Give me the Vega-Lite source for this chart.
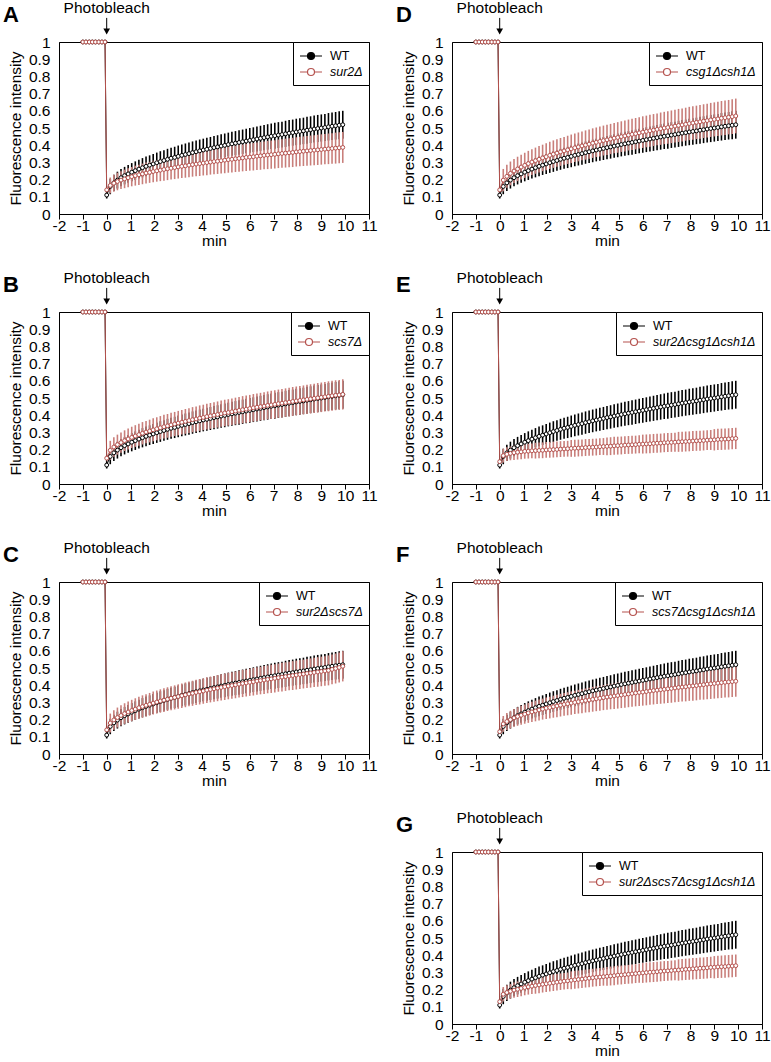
{
"$schema":"https://vega.github.io/schema/vega-lite/v6.json",
"padding":{"left":2,"top":0,"right":2,"bottom":2},
"background":"white",
"spacing":17,
"resolve":{"scale":{"x":"independent","y":"independent","color":"independent"},"legend":{"color":"independent"}},
"datasets":{"frap":[
{"t":-1,"w":1,"we":0,"a":1,"ae":0,"b":1,"be":0,"c":1,"ce":0,"d":1,"de":0,"e":1,"ee":0,"f":1,"fe":0,"g":1,"ge":0},
{"t":-0.87,"w":1,"we":0,"a":1,"ae":0,"b":1,"be":0,"c":1,"ce":0,"d":1,"de":0,"e":1,"ee":0,"f":1,"fe":0,"g":1,"ge":0},
{"t":-0.73,"w":1,"we":0,"a":1,"ae":0,"b":1,"be":0,"c":1,"ce":0,"d":1,"de":0,"e":1,"ee":0,"f":1,"fe":0,"g":1,"ge":0},
{"t":-0.6,"w":1,"we":0,"a":1,"ae":0,"b":1,"be":0,"c":1,"ce":0,"d":1,"de":0,"e":1,"ee":0,"f":1,"fe":0,"g":1,"ge":0},
{"t":-0.47,"w":1,"we":0,"a":1,"ae":0,"b":1,"be":0,"c":1,"ce":0,"d":1,"de":0,"e":1,"ee":0,"f":1,"fe":0,"g":1,"ge":0},
{"t":-0.33,"w":1,"we":0,"a":1,"ae":0,"b":1,"be":0,"c":1,"ce":0,"d":1,"de":0,"e":1,"ee":0,"f":1,"fe":0,"g":1,"ge":0},
{"t":-0.2,"w":1,"we":0,"a":1,"ae":0,"b":1,"be":0,"c":1,"ce":0,"d":1,"de":0,"e":1,"ee":0,"f":1,"fe":0,"g":1,"ge":0},
{"t":-0.07,"w":1,"we":0,"a":1,"ae":0,"b":1,"be":0,"c":1,"ce":0,"d":1,"de":0,"e":1,"ee":0,"f":1,"fe":0,"g":1,"ge":0},
{"t":0,"w":0.11,"we":0.02,"a":0.14,"ae":0.02,"b":0.15,"be":0.02,"c":0.14,"ce":0.02,"d":0.14,"de":0.02,"e":0.13,"ee":0.015,"f":0.13,"fe":0.02,"g":0.13,"ge":0.015},
{"t":0.15,"w":0.160,"we":0.045,"a":0.166,"ae":0.046,"b":0.196,"be":0.055,"c":0.180,"ce":0.055,"d":0.197,"de":0.065,"e":0.165,"ee":0.040,"f":0.175,"fe":0.046,"g":0.173,"ge":0.042},
{"t":0.3,"w":0.181,"we":0.047,"a":0.179,"ae":0.049,"b":0.215,"be":0.057,"c":0.198,"ce":0.057,"d":0.219,"de":0.067,"e":0.173,"ee":0.040,"f":0.189,"fe":0.049,"g":0.183,"ge":0.042},
{"t":0.45,"w":0.197,"we":0.049,"a":0.189,"ae":0.051,"b":0.229,"be":0.058,"c":0.212,"ce":0.058,"d":0.236,"de":0.069,"e":0.178,"ee":0.040,"f":0.200,"fe":0.051,"g":0.190,"ge":0.042},
{"t":0.6,"w":0.211,"we":0.050,"a":0.197,"ae":0.052,"b":0.241,"be":0.059,"c":0.224,"ce":0.059,"d":0.250,"de":0.070,"e":0.182,"ee":0.043,"f":0.210,"fe":0.052,"g":0.197,"ge":0.045},
{"t":0.75,"w":0.223,"we":0.051,"a":0.204,"ae":0.054,"b":0.252,"be":0.060,"c":0.235,"ce":0.060,"d":0.262,"de":0.071,"e":0.185,"ee":0.043,"f":0.218,"fe":0.054,"g":0.202,"ge":0.045},
{"t":0.9,"w":0.233,"we":0.052,"a":0.211,"ae":0.055,"b":0.262,"be":0.061,"c":0.244,"ce":0.061,"d":0.273,"de":0.072,"e":0.187,"ee":0.043,"f":0.225,"fe":0.055,"g":0.207,"ge":0.045},
{"t":1.05,"w":0.243,"we":0.053,"a":0.217,"ae":0.056,"b":0.271,"be":0.062,"c":0.253,"ce":0.062,"d":0.283,"de":0.073,"e":0.190,"ee":0.043,"f":0.232,"fe":0.056,"g":0.212,"ge":0.045},
{"t":1.2,"w":0.252,"we":0.054,"a":0.223,"ae":0.058,"b":0.279,"be":0.063,"c":0.261,"ce":0.063,"d":0.293,"de":0.074,"e":0.191,"ee":0.043,"f":0.239,"fe":0.058,"g":0.216,"ge":0.045},
{"t":1.35,"w":0.261,"we":0.055,"a":0.228,"ae":0.059,"b":0.287,"be":0.064,"c":0.269,"ce":0.064,"d":0.302,"de":0.075,"e":0.193,"ee":0.043,"f":0.245,"fe":0.059,"g":0.220,"ge":0.045},
{"t":1.5,"w":0.269,"we":0.056,"a":0.233,"ae":0.060,"b":0.295,"be":0.065,"c":0.276,"ce":0.065,"d":0.310,"de":0.076,"e":0.194,"ee":0.046,"f":0.250,"fe":0.060,"g":0.224,"ge":0.048},
{"t":1.65,"w":0.277,"we":0.057,"a":0.238,"ae":0.061,"b":0.302,"be":0.065,"c":0.283,"ce":0.065,"d":0.318,"de":0.077,"e":0.195,"ee":0.046,"f":0.256,"fe":0.061,"g":0.227,"ge":0.048},
{"t":1.8,"w":0.284,"we":0.057,"a":0.242,"ae":0.061,"b":0.308,"be":0.066,"c":0.289,"ce":0.066,"d":0.326,"de":0.077,"e":0.196,"ee":0.046,"f":0.261,"fe":0.061,"g":0.231,"ge":0.048},
{"t":1.95,"w":0.291,"we":0.058,"a":0.247,"ae":0.062,"b":0.315,"be":0.067,"c":0.296,"ce":0.067,"d":0.333,"de":0.078,"e":0.198,"ee":0.046,"f":0.266,"fe":0.062,"g":0.234,"ge":0.048},
{"t":2.1,"w":0.298,"we":0.059,"a":0.251,"ae":0.063,"b":0.321,"be":0.067,"c":0.302,"ce":0.067,"d":0.341,"de":0.079,"e":0.199,"ee":0.046,"f":0.270,"fe":0.063,"g":0.237,"ge":0.048},
{"t":2.25,"w":0.305,"we":0.060,"a":0.255,"ae":0.064,"b":0.327,"be":0.068,"c":0.308,"ce":0.068,"d":0.348,"de":0.080,"e":0.200,"ee":0.046,"f":0.275,"fe":0.064,"g":0.240,"ge":0.048},
{"t":2.4,"w":0.311,"we":0.060,"a":0.259,"ae":0.065,"b":0.333,"be":0.069,"c":0.313,"ce":0.069,"d":0.354,"de":0.080,"e":0.201,"ee":0.046,"f":0.279,"fe":0.065,"g":0.243,"ge":0.048},
{"t":2.55,"w":0.318,"we":0.061,"a":0.263,"ae":0.066,"b":0.338,"be":0.069,"c":0.319,"ce":0.069,"d":0.361,"de":0.081,"e":0.203,"ee":0.046,"f":0.284,"fe":0.066,"g":0.246,"ge":0.048},
{"t":2.7,"w":0.324,"we":0.061,"a":0.266,"ae":0.066,"b":0.344,"be":0.070,"c":0.324,"ce":0.070,"d":0.367,"de":0.081,"e":0.204,"ee":0.046,"f":0.288,"fe":0.066,"g":0.249,"ge":0.048},
{"t":2.85,"w":0.329,"we":0.062,"a":0.270,"ae":0.067,"b":0.349,"be":0.070,"c":0.329,"ce":0.070,"d":0.373,"de":0.082,"e":0.205,"ee":0.046,"f":0.292,"fe":0.067,"g":0.251,"ge":0.048},
{"t":3.0,"w":0.335,"we":0.063,"a":0.274,"ae":0.068,"b":0.354,"be":0.071,"c":0.334,"ce":0.071,"d":0.379,"de":0.083,"e":0.207,"ee":0.049,"f":0.296,"fe":0.068,"g":0.254,"ge":0.052},
{"t":3.15,"w":0.341,"we":0.063,"a":0.277,"ae":0.068,"b":0.359,"be":0.071,"c":0.339,"ce":0.071,"d":0.385,"de":0.083,"e":0.208,"ee":0.049,"f":0.300,"fe":0.068,"g":0.257,"ge":0.052},
{"t":3.3,"w":0.346,"we":0.064,"a":0.280,"ae":0.069,"b":0.364,"be":0.072,"c":0.344,"ce":0.072,"d":0.390,"de":0.084,"e":0.209,"ee":0.049,"f":0.304,"fe":0.069,"g":0.259,"ge":0.052},
{"t":3.45,"w":0.351,"we":0.064,"a":0.284,"ae":0.070,"b":0.369,"be":0.072,"c":0.349,"ce":0.072,"d":0.396,"de":0.084,"e":0.210,"ee":0.049,"f":0.307,"fe":0.070,"g":0.261,"ge":0.052},
{"t":3.6,"w":0.357,"we":0.065,"a":0.287,"ae":0.070,"b":0.374,"be":0.073,"c":0.353,"ce":0.073,"d":0.401,"de":0.085,"e":0.212,"ee":0.049,"f":0.311,"fe":0.070,"g":0.264,"ge":0.052},
{"t":3.75,"w":0.362,"we":0.065,"a":0.290,"ae":0.071,"b":0.378,"be":0.073,"c":0.358,"ce":0.073,"d":0.406,"de":0.085,"e":0.213,"ee":0.049,"f":0.314,"fe":0.071,"g":0.266,"ge":0.052},
{"t":3.9,"w":0.367,"we":0.066,"a":0.293,"ae":0.072,"b":0.383,"be":0.074,"c":0.362,"ce":0.074,"d":0.412,"de":0.086,"e":0.214,"ee":0.049,"f":0.318,"fe":0.072,"g":0.269,"ge":0.052},
{"t":4.05,"w":0.372,"we":0.066,"a":0.296,"ae":0.072,"b":0.387,"be":0.074,"c":0.366,"ce":0.074,"d":0.417,"de":0.086,"e":0.215,"ee":0.049,"f":0.321,"fe":0.072,"g":0.271,"ge":0.052},
{"t":4.2,"w":0.376,"we":0.067,"a":0.299,"ae":0.073,"b":0.392,"be":0.075,"c":0.371,"ce":0.075,"d":0.422,"de":0.087,"e":0.217,"ee":0.049,"f":0.324,"fe":0.073,"g":0.273,"ge":0.052},
{"t":4.35,"w":0.381,"we":0.067,"a":0.302,"ae":0.073,"b":0.396,"be":0.075,"c":0.375,"ce":0.075,"d":0.427,"de":0.087,"e":0.218,"ee":0.049,"f":0.328,"fe":0.073,"g":0.275,"ge":0.052},
{"t":4.5,"w":0.386,"we":0.068,"a":0.305,"ae":0.074,"b":0.400,"be":0.075,"c":0.379,"ce":0.075,"d":0.431,"de":0.088,"e":0.219,"ee":0.052,"f":0.331,"fe":0.074,"g":0.277,"ge":0.055},
{"t":4.65,"w":0.390,"we":0.068,"a":0.307,"ae":0.074,"b":0.404,"be":0.076,"c":0.383,"ce":0.076,"d":0.436,"de":0.088,"e":0.220,"ee":0.052,"f":0.334,"fe":0.074,"g":0.279,"ge":0.055},
{"t":4.8,"w":0.395,"we":0.068,"a":0.310,"ae":0.075,"b":0.409,"be":0.076,"c":0.387,"ce":0.076,"d":0.441,"de":0.088,"e":0.222,"ee":0.052,"f":0.337,"fe":0.075,"g":0.281,"ge":0.055},
{"t":4.95,"w":0.399,"we":0.069,"a":0.313,"ae":0.076,"b":0.413,"be":0.077,"c":0.391,"ce":0.077,"d":0.445,"de":0.089,"e":0.223,"ee":0.052,"f":0.340,"fe":0.076,"g":0.284,"ge":0.055},
{"t":5.1,"w":0.404,"we":0.069,"a":0.316,"ae":0.076,"b":0.416,"be":0.077,"c":0.395,"ce":0.077,"d":0.450,"de":0.089,"e":0.224,"ee":0.052,"f":0.343,"fe":0.076,"g":0.285,"ge":0.055},
{"t":5.25,"w":0.408,"we":0.070,"a":0.318,"ae":0.077,"b":0.420,"be":0.077,"c":0.398,"ce":0.077,"d":0.454,"de":0.090,"e":0.226,"ee":0.052,"f":0.346,"fe":0.077,"g":0.287,"ge":0.055},
{"t":5.4,"w":0.412,"we":0.070,"a":0.321,"ae":0.077,"b":0.424,"be":0.078,"c":0.402,"ce":0.078,"d":0.459,"de":0.090,"e":0.227,"ee":0.052,"f":0.349,"fe":0.077,"g":0.289,"ge":0.055},
{"t":5.55,"w":0.416,"we":0.071,"a":0.323,"ae":0.078,"b":0.428,"be":0.078,"c":0.406,"ce":0.078,"d":0.463,"de":0.091,"e":0.228,"ee":0.052,"f":0.352,"fe":0.078,"g":0.291,"ge":0.055},
{"t":5.7,"w":0.420,"we":0.071,"a":0.326,"ae":0.078,"b":0.432,"be":0.079,"c":0.410,"ce":0.079,"d":0.467,"de":0.091,"e":0.229,"ee":0.052,"f":0.355,"fe":0.078,"g":0.293,"ge":0.055},
{"t":5.85,"w":0.424,"we":0.071,"a":0.329,"ae":0.079,"b":0.435,"be":0.079,"c":0.413,"ce":0.079,"d":0.472,"de":0.091,"e":0.231,"ee":0.052,"f":0.358,"fe":0.079,"g":0.295,"ge":0.055},
{"t":6.0,"w":0.428,"we":0.072,"a":0.331,"ae":0.079,"b":0.439,"be":0.079,"c":0.417,"ce":0.079,"d":0.476,"de":0.092,"e":0.232,"ee":0.055,"f":0.360,"fe":0.079,"g":0.297,"ge":0.058},
{"t":6.15,"w":0.432,"we":0.072,"a":0.333,"ae":0.080,"b":0.443,"be":0.080,"c":0.420,"ce":0.080,"d":0.480,"de":0.092,"e":0.233,"ee":0.055,"f":0.363,"fe":0.080,"g":0.299,"ge":0.058},
{"t":6.3,"w":0.436,"we":0.073,"a":0.336,"ae":0.080,"b":0.446,"be":0.080,"c":0.424,"ce":0.080,"d":0.484,"de":0.093,"e":0.234,"ee":0.055,"f":0.366,"fe":0.080,"g":0.301,"ge":0.058},
{"t":6.45,"w":0.440,"we":0.073,"a":0.338,"ae":0.081,"b":0.450,"be":0.080,"c":0.427,"ce":0.080,"d":0.488,"de":0.093,"e":0.236,"ee":0.055,"f":0.369,"fe":0.081,"g":0.302,"ge":0.058},
{"t":6.6,"w":0.444,"we":0.073,"a":0.341,"ae":0.081,"b":0.453,"be":0.081,"c":0.430,"ce":0.081,"d":0.492,"de":0.093,"e":0.237,"ee":0.055,"f":0.371,"fe":0.081,"g":0.304,"ge":0.058},
{"t":6.75,"w":0.448,"we":0.074,"a":0.343,"ae":0.082,"b":0.457,"be":0.081,"c":0.434,"ce":0.081,"d":0.496,"de":0.094,"e":0.238,"ee":0.055,"f":0.374,"fe":0.082,"g":0.306,"ge":0.058},
{"t":6.9,"w":0.452,"we":0.074,"a":0.345,"ae":0.082,"b":0.460,"be":0.082,"c":0.437,"ce":0.082,"d":0.500,"de":0.094,"e":0.240,"ee":0.055,"f":0.376,"fe":0.082,"g":0.308,"ge":0.058},
{"t":7.05,"w":0.455,"we":0.075,"a":0.347,"ae":0.082,"b":0.463,"be":0.082,"c":0.440,"ce":0.082,"d":0.503,"de":0.095,"e":0.241,"ee":0.055,"f":0.379,"fe":0.082,"g":0.309,"ge":0.058},
{"t":7.2,"w":0.459,"we":0.075,"a":0.350,"ae":0.083,"b":0.467,"be":0.082,"c":0.444,"ce":0.082,"d":0.507,"de":0.095,"e":0.242,"ee":0.055,"f":0.381,"fe":0.083,"g":0.311,"ge":0.058},
{"t":7.35,"w":0.462,"we":0.075,"a":0.352,"ae":0.083,"b":0.470,"be":0.083,"c":0.447,"ce":0.083,"d":0.511,"de":0.095,"e":0.243,"ee":0.055,"f":0.384,"fe":0.083,"g":0.313,"ge":0.058},
{"t":7.5,"w":0.466,"we":0.076,"a":0.354,"ae":0.084,"b":0.473,"be":0.083,"c":0.450,"ce":0.083,"d":0.515,"de":0.096,"e":0.245,"ee":0.058,"f":0.387,"fe":0.084,"g":0.314,"ge":0.062},
{"t":7.65,"w":0.470,"we":0.076,"a":0.356,"ae":0.084,"b":0.476,"be":0.083,"c":0.453,"ce":0.083,"d":0.518,"de":0.096,"e":0.246,"ee":0.058,"f":0.389,"fe":0.084,"g":0.316,"ge":0.062},
{"t":7.8,"w":0.473,"we":0.076,"a":0.358,"ae":0.085,"b":0.480,"be":0.084,"c":0.456,"ce":0.084,"d":0.522,"de":0.096,"e":0.247,"ee":0.058,"f":0.391,"fe":0.085,"g":0.318,"ge":0.062},
{"t":7.95,"w":0.477,"we":0.077,"a":0.361,"ae":0.085,"b":0.483,"be":0.084,"c":0.459,"ce":0.084,"d":0.526,"de":0.097,"e":0.248,"ee":0.058,"f":0.394,"fe":0.085,"g":0.319,"ge":0.062},
{"t":8.1,"w":0.480,"we":0.077,"a":0.363,"ae":0.086,"b":0.486,"be":0.084,"c":0.462,"ce":0.084,"d":0.529,"de":0.097,"e":0.250,"ee":0.058,"f":0.396,"fe":0.086,"g":0.321,"ge":0.062},
{"t":8.25,"w":0.483,"we":0.077,"a":0.365,"ae":0.086,"b":0.489,"be":0.084,"c":0.465,"ce":0.084,"d":0.533,"de":0.097,"e":0.251,"ee":0.058,"f":0.398,"fe":0.086,"g":0.322,"ge":0.062},
{"t":8.4,"w":0.487,"we":0.078,"a":0.367,"ae":0.086,"b":0.492,"be":0.085,"c":0.468,"ce":0.085,"d":0.536,"de":0.098,"e":0.252,"ee":0.058,"f":0.401,"fe":0.086,"g":0.324,"ge":0.062},
{"t":8.55,"w":0.490,"we":0.078,"a":0.369,"ae":0.087,"b":0.495,"be":0.085,"c":0.471,"ce":0.085,"d":0.540,"de":0.098,"e":0.253,"ee":0.058,"f":0.403,"fe":0.087,"g":0.325,"ge":0.062},
{"t":8.7,"w":0.494,"we":0.078,"a":0.371,"ae":0.087,"b":0.498,"be":0.085,"c":0.474,"ce":0.085,"d":0.543,"de":0.098,"e":0.255,"ee":0.058,"f":0.406,"fe":0.087,"g":0.327,"ge":0.062},
{"t":8.85,"w":0.497,"we":0.079,"a":0.373,"ae":0.088,"b":0.501,"be":0.086,"c":0.477,"ce":0.086,"d":0.547,"de":0.099,"e":0.256,"ee":0.058,"f":0.408,"fe":0.088,"g":0.329,"ge":0.062},
{"t":9.0,"w":0.500,"we":0.079,"a":0.375,"ae":0.088,"b":0.504,"be":0.086,"c":0.480,"ce":0.086,"d":0.550,"de":0.099,"e":0.257,"ee":0.062,"f":0.410,"fe":0.088,"g":0.330,"ge":0.065},
{"t":9.15,"w":0.503,"we":0.079,"a":0.377,"ae":0.088,"b":0.507,"be":0.086,"c":0.483,"ce":0.086,"d":0.553,"de":0.099,"e":0.259,"ee":0.062,"f":0.412,"fe":0.088,"g":0.332,"ge":0.065},
{"t":9.3,"w":0.507,"we":0.080,"a":0.379,"ae":0.089,"b":0.510,"be":0.087,"c":0.486,"ce":0.087,"d":0.557,"de":0.100,"e":0.260,"ee":0.062,"f":0.415,"fe":0.089,"g":0.333,"ge":0.065},
{"t":9.45,"w":0.510,"we":0.080,"a":0.381,"ae":0.089,"b":0.513,"be":0.087,"c":0.492,"ce":0.087,"d":0.560,"de":0.100,"e":0.261,"ee":0.062,"f":0.417,"fe":0.089,"g":0.334,"ge":0.065},
{"t":9.6,"w":0.513,"we":0.080,"a":0.383,"ae":0.090,"b":0.516,"be":0.087,"c":0.497,"ce":0.087,"d":0.563,"de":0.100,"e":0.262,"ee":0.062,"f":0.419,"fe":0.090,"g":0.336,"ge":0.065},
{"t":9.75,"w":0.516,"we":0.081,"a":0.385,"ae":0.090,"b":0.518,"be":0.087,"c":0.503,"ce":0.087,"d":0.566,"de":0.101,"e":0.264,"ee":0.062,"f":0.421,"fe":0.090,"g":0.337,"ge":0.065},
{"t":9.9,"w":0.519,"we":0.081,"a":0.387,"ae":0.090,"b":0.521,"be":0.088,"c":0.510,"ce":0.088,"d":0.570,"de":0.101,"e":0.265,"ee":0.062,"f":0.423,"fe":0.090,"g":0.339,"ge":0.065}
]},
"data":{"name":"frap"},
"config":{
"font":"Liberation Sans",
"view":{"stroke":"black","strokeWidth":1},
"axis":{"grid":false,"domainColor":"black","tickColor":"black","labelColor":"black","titleColor":"black","labelFontSize":15.5,"titleFontSize":15.5,"titleFontWeight":"normal","labelFont":"Liberation Sans","titleFont":"Liberation Sans","labelFlush":false,"labelOverlap":false},
"axisX":{"tickCount":13,"tickSize":5,"labelPadding":-1,"titlePadding":0,"labelExpr":"datum.value < 0 ? '-' + format(-datum.value, 'd') : format(datum.value, 'd')"},
"axisY":{"tickCount":10,"ticks":false,"labelPadding":9,"titlePadding":5,"format":"~g"},
"title":{"anchor":"start","frame":"group","fontSize":22,"fontWeight":"bold","dx":-56,"offset":-26,"font":"Liberation Sans","color":"black"},
"legend":{"title":null,"orient":"top-right","offset":0,"padding":6,"strokeColor":"black","fillColor":"white","symbolType":"M-1.57,0L-0.5,0M0.5,0L1.57,0M-0.5,0A0.5,0.5,0,1,1,0.5,0A0.5,0.5,0,1,1,-0.5,0Z","symbolSize":196,"symbolOffset":4,"labelOffset":11,"labelFontSize":12.5,"labelFontWeight":"normal","labelFont":"Liberation Sans","labelColor":"black","rowPadding":1,"symbolStrokeWidth":1.2}
},
"hconcat":[
{"vconcat":[
{"title":"A","width":310,"height":172,"layer":[
{"mark":{"type":"errorbar","color":"black","thickness":1.6},"encoding":{"x":{"field":"t","type":"quantitative","scale":{"domain":[-2,11],"nice":false},"title":"min"},"y":{"field":"w","type":"quantitative","scale":{"domain":[0,1],"nice":false},"title":"Fluorescence intensity"},"yError":{"field":"we"}}},
{"mark":{"type":"errorbar","color":"#c97f7b","thickness":1.6},"encoding":{"x":{"field":"t","type":"quantitative","title":"min"},"y":{"field":"a","type":"quantitative","title":"Fluorescence intensity"},"yError":{"field":"ae"}}},
{"mark":{"type":"line","strokeWidth":1,"point":{"filled":false,"fill":"white","size":15,"strokeWidth":1}},"encoding":{"x":{"field":"t","type":"quantitative","title":"min"},"y":{"field":"w","type":"quantitative","title":"Fluorescence intensity"},"color":{"datum":"WT","scale":{"domain":["WT","sur2Δ"],"range":["black","#b5524e"]},"legend":{"encode":{"symbols":{"update":{"fill":{"signal":"datum.value === 'WT' ? 'black' : 'white'"},"stroke":{"signal":"datum.value === 'WT' ? 'black' : '#b5524e'"}}},"labels":{"update":{"fontStyle":{"signal":"datum.value === 'WT' ? 'normal' : 'italic'"}}}}}}}},
{"mark":{"type":"line","strokeWidth":1,"point":{"filled":false,"fill":"white","size":15,"strokeWidth":1}},"encoding":{"x":{"field":"t","type":"quantitative","title":"min"},"y":{"field":"a","type":"quantitative","title":"Fluorescence intensity"},"color":{"datum":"sur2Δ","scale":{"domain":["WT","sur2Δ"],"range":["black","#b5524e"]},"legend":{"encode":{"symbols":{"update":{"fill":{"signal":"datum.value === 'WT' ? 'black' : 'white'"},"stroke":{"signal":"datum.value === 'WT' ? 'black' : '#b5524e'"}}},"labels":{"update":{"fontStyle":{"signal":"datum.value === 'WT' ? 'normal' : 'italic'"}}}}}}}},
{"data":{"values":[{}]},"mark":{"type":"text","text":"Photobleach","fontSize":15.5,"align":"center","baseline":"alphabetic","color":"black"},"encoding":{"x":{"datum":0},"y":{"datum":1.17}}},
{"data":{"values":[{}]},"mark":{"type":"rule","color":"black","strokeWidth":1},"encoding":{"x":{"datum":0},"y":{"datum":1.14},"y2":{"datum":1.065}}},
{"data":{"values":[{}]},"mark":{"type":"point","shape":"triangle-down","filled":true,"color":"black","size":45,"opacity":1},"encoding":{"x":{"datum":0},"y":{"datum":1.061}}}
]},
{"title":"B","width":310,"height":172,"layer":[
{"mark":{"type":"errorbar","color":"black","thickness":1.6},"encoding":{"x":{"field":"t","type":"quantitative","scale":{"domain":[-2,11],"nice":false},"title":"min"},"y":{"field":"w","type":"quantitative","scale":{"domain":[0,1],"nice":false},"title":"Fluorescence intensity"},"yError":{"field":"we"}}},
{"mark":{"type":"errorbar","color":"#c97f7b","thickness":1.6},"encoding":{"x":{"field":"t","type":"quantitative","title":"min"},"y":{"field":"b","type":"quantitative","title":"Fluorescence intensity"},"yError":{"field":"be"}}},
{"mark":{"type":"line","strokeWidth":1,"point":{"filled":false,"fill":"white","size":15,"strokeWidth":1}},"encoding":{"x":{"field":"t","type":"quantitative","title":"min"},"y":{"field":"w","type":"quantitative","title":"Fluorescence intensity"},"color":{"datum":"WT","scale":{"domain":["WT","scs7Δ"],"range":["black","#b5524e"]},"legend":{"encode":{"symbols":{"update":{"fill":{"signal":"datum.value === 'WT' ? 'black' : 'white'"},"stroke":{"signal":"datum.value === 'WT' ? 'black' : '#b5524e'"}}},"labels":{"update":{"fontStyle":{"signal":"datum.value === 'WT' ? 'normal' : 'italic'"}}}}}}}},
{"mark":{"type":"line","strokeWidth":1,"point":{"filled":false,"fill":"white","size":15,"strokeWidth":1}},"encoding":{"x":{"field":"t","type":"quantitative","title":"min"},"y":{"field":"b","type":"quantitative","title":"Fluorescence intensity"},"color":{"datum":"scs7Δ","scale":{"domain":["WT","scs7Δ"],"range":["black","#b5524e"]},"legend":{"encode":{"symbols":{"update":{"fill":{"signal":"datum.value === 'WT' ? 'black' : 'white'"},"stroke":{"signal":"datum.value === 'WT' ? 'black' : '#b5524e'"}}},"labels":{"update":{"fontStyle":{"signal":"datum.value === 'WT' ? 'normal' : 'italic'"}}}}}}}},
{"data":{"values":[{}]},"mark":{"type":"text","text":"Photobleach","fontSize":15.5,"align":"center","baseline":"alphabetic","color":"black"},"encoding":{"x":{"datum":0},"y":{"datum":1.17}}},
{"data":{"values":[{}]},"mark":{"type":"rule","color":"black","strokeWidth":1},"encoding":{"x":{"datum":0},"y":{"datum":1.14},"y2":{"datum":1.065}}},
{"data":{"values":[{}]},"mark":{"type":"point","shape":"triangle-down","filled":true,"color":"black","size":45,"opacity":1},"encoding":{"x":{"datum":0},"y":{"datum":1.061}}}
]},
{"title":"C","width":310,"height":172,"layer":[
{"mark":{"type":"errorbar","color":"black","thickness":1.6},"encoding":{"x":{"field":"t","type":"quantitative","scale":{"domain":[-2,11],"nice":false},"title":"min"},"y":{"field":"w","type":"quantitative","scale":{"domain":[0,1],"nice":false},"title":"Fluorescence intensity"},"yError":{"field":"we"}}},
{"mark":{"type":"errorbar","color":"#c97f7b","thickness":1.6},"encoding":{"x":{"field":"t","type":"quantitative","title":"min"},"y":{"field":"c","type":"quantitative","title":"Fluorescence intensity"},"yError":{"field":"ce"}}},
{"mark":{"type":"line","strokeWidth":1,"point":{"filled":false,"fill":"white","size":15,"strokeWidth":1}},"encoding":{"x":{"field":"t","type":"quantitative","title":"min"},"y":{"field":"w","type":"quantitative","title":"Fluorescence intensity"},"color":{"datum":"WT","scale":{"domain":["WT","sur2Δscs7Δ"],"range":["black","#b5524e"]},"legend":{"encode":{"symbols":{"update":{"fill":{"signal":"datum.value === 'WT' ? 'black' : 'white'"},"stroke":{"signal":"datum.value === 'WT' ? 'black' : '#b5524e'"}}},"labels":{"update":{"fontStyle":{"signal":"datum.value === 'WT' ? 'normal' : 'italic'"}}}}}}}},
{"mark":{"type":"line","strokeWidth":1,"point":{"filled":false,"fill":"white","size":15,"strokeWidth":1}},"encoding":{"x":{"field":"t","type":"quantitative","title":"min"},"y":{"field":"c","type":"quantitative","title":"Fluorescence intensity"},"color":{"datum":"sur2Δscs7Δ","scale":{"domain":["WT","sur2Δscs7Δ"],"range":["black","#b5524e"]},"legend":{"encode":{"symbols":{"update":{"fill":{"signal":"datum.value === 'WT' ? 'black' : 'white'"},"stroke":{"signal":"datum.value === 'WT' ? 'black' : '#b5524e'"}}},"labels":{"update":{"fontStyle":{"signal":"datum.value === 'WT' ? 'normal' : 'italic'"}}}}}}}},
{"data":{"values":[{}]},"mark":{"type":"text","text":"Photobleach","fontSize":15.5,"align":"center","baseline":"alphabetic","color":"black"},"encoding":{"x":{"datum":0},"y":{"datum":1.17}}},
{"data":{"values":[{}]},"mark":{"type":"rule","color":"black","strokeWidth":1},"encoding":{"x":{"datum":0},"y":{"datum":1.14},"y2":{"datum":1.065}}},
{"data":{"values":[{}]},"mark":{"type":"point","shape":"triangle-down","filled":true,"color":"black","size":45,"opacity":1},"encoding":{"x":{"datum":0},"y":{"datum":1.061}}}
]}
],"spacing":98,"bounds":"flush","resolve":{"scale":{"x":"independent","y":"independent","color":"independent"},"legend":{"color":"independent"}}},
{"vconcat":[
{"title":"D","width":310,"height":172,"layer":[
{"mark":{"type":"errorbar","color":"black","thickness":1.6},"encoding":{"x":{"field":"t","type":"quantitative","scale":{"domain":[-2,11],"nice":false},"title":"min"},"y":{"field":"w","type":"quantitative","scale":{"domain":[0,1],"nice":false},"title":"Fluorescence intensity"},"yError":{"field":"we"}}},
{"mark":{"type":"errorbar","color":"#c97f7b","thickness":1.6},"encoding":{"x":{"field":"t","type":"quantitative","title":"min"},"y":{"field":"d","type":"quantitative","title":"Fluorescence intensity"},"yError":{"field":"de"}}},
{"mark":{"type":"line","strokeWidth":1,"point":{"filled":false,"fill":"white","size":15,"strokeWidth":1}},"encoding":{"x":{"field":"t","type":"quantitative","title":"min"},"y":{"field":"w","type":"quantitative","title":"Fluorescence intensity"},"color":{"datum":"WT","scale":{"domain":["WT","csg1Δcsh1Δ"],"range":["black","#b5524e"]},"legend":{"encode":{"symbols":{"update":{"fill":{"signal":"datum.value === 'WT' ? 'black' : 'white'"},"stroke":{"signal":"datum.value === 'WT' ? 'black' : '#b5524e'"}}},"labels":{"update":{"fontStyle":{"signal":"datum.value === 'WT' ? 'normal' : 'italic'"}}}}}}}},
{"mark":{"type":"line","strokeWidth":1,"point":{"filled":false,"fill":"white","size":15,"strokeWidth":1}},"encoding":{"x":{"field":"t","type":"quantitative","title":"min"},"y":{"field":"d","type":"quantitative","title":"Fluorescence intensity"},"color":{"datum":"csg1Δcsh1Δ","scale":{"domain":["WT","csg1Δcsh1Δ"],"range":["black","#b5524e"]},"legend":{"encode":{"symbols":{"update":{"fill":{"signal":"datum.value === 'WT' ? 'black' : 'white'"},"stroke":{"signal":"datum.value === 'WT' ? 'black' : '#b5524e'"}}},"labels":{"update":{"fontStyle":{"signal":"datum.value === 'WT' ? 'normal' : 'italic'"}}}}}}}},
{"data":{"values":[{}]},"mark":{"type":"text","text":"Photobleach","fontSize":15.5,"align":"center","baseline":"alphabetic","color":"black"},"encoding":{"x":{"datum":0},"y":{"datum":1.17}}},
{"data":{"values":[{}]},"mark":{"type":"rule","color":"black","strokeWidth":1},"encoding":{"x":{"datum":0},"y":{"datum":1.14},"y2":{"datum":1.065}}},
{"data":{"values":[{}]},"mark":{"type":"point","shape":"triangle-down","filled":true,"color":"black","size":45,"opacity":1},"encoding":{"x":{"datum":0},"y":{"datum":1.061}}}
]},
{"title":"E","width":310,"height":172,"layer":[
{"mark":{"type":"errorbar","color":"black","thickness":1.6},"encoding":{"x":{"field":"t","type":"quantitative","scale":{"domain":[-2,11],"nice":false},"title":"min"},"y":{"field":"w","type":"quantitative","scale":{"domain":[0,1],"nice":false},"title":"Fluorescence intensity"},"yError":{"field":"we"}}},
{"mark":{"type":"errorbar","color":"#c97f7b","thickness":1.6},"encoding":{"x":{"field":"t","type":"quantitative","title":"min"},"y":{"field":"e","type":"quantitative","title":"Fluorescence intensity"},"yError":{"field":"ee"}}},
{"mark":{"type":"line","strokeWidth":1,"point":{"filled":false,"fill":"white","size":15,"strokeWidth":1}},"encoding":{"x":{"field":"t","type":"quantitative","title":"min"},"y":{"field":"w","type":"quantitative","title":"Fluorescence intensity"},"color":{"datum":"WT","scale":{"domain":["WT","sur2Δcsg1Δcsh1Δ"],"range":["black","#b5524e"]},"legend":{"encode":{"symbols":{"update":{"fill":{"signal":"datum.value === 'WT' ? 'black' : 'white'"},"stroke":{"signal":"datum.value === 'WT' ? 'black' : '#b5524e'"}}},"labels":{"update":{"fontStyle":{"signal":"datum.value === 'WT' ? 'normal' : 'italic'"}}}}}}}},
{"mark":{"type":"line","strokeWidth":1,"point":{"filled":false,"fill":"white","size":15,"strokeWidth":1}},"encoding":{"x":{"field":"t","type":"quantitative","title":"min"},"y":{"field":"e","type":"quantitative","title":"Fluorescence intensity"},"color":{"datum":"sur2Δcsg1Δcsh1Δ","scale":{"domain":["WT","sur2Δcsg1Δcsh1Δ"],"range":["black","#b5524e"]},"legend":{"encode":{"symbols":{"update":{"fill":{"signal":"datum.value === 'WT' ? 'black' : 'white'"},"stroke":{"signal":"datum.value === 'WT' ? 'black' : '#b5524e'"}}},"labels":{"update":{"fontStyle":{"signal":"datum.value === 'WT' ? 'normal' : 'italic'"}}}}}}}},
{"data":{"values":[{}]},"mark":{"type":"text","text":"Photobleach","fontSize":15.5,"align":"center","baseline":"alphabetic","color":"black"},"encoding":{"x":{"datum":0},"y":{"datum":1.17}}},
{"data":{"values":[{}]},"mark":{"type":"rule","color":"black","strokeWidth":1},"encoding":{"x":{"datum":0},"y":{"datum":1.14},"y2":{"datum":1.065}}},
{"data":{"values":[{}]},"mark":{"type":"point","shape":"triangle-down","filled":true,"color":"black","size":45,"opacity":1},"encoding":{"x":{"datum":0},"y":{"datum":1.061}}}
]},
{"title":"F","width":310,"height":172,"layer":[
{"mark":{"type":"errorbar","color":"black","thickness":1.6},"encoding":{"x":{"field":"t","type":"quantitative","scale":{"domain":[-2,11],"nice":false},"title":"min"},"y":{"field":"w","type":"quantitative","scale":{"domain":[0,1],"nice":false},"title":"Fluorescence intensity"},"yError":{"field":"we"}}},
{"mark":{"type":"errorbar","color":"#c97f7b","thickness":1.6},"encoding":{"x":{"field":"t","type":"quantitative","title":"min"},"y":{"field":"f","type":"quantitative","title":"Fluorescence intensity"},"yError":{"field":"fe"}}},
{"mark":{"type":"line","strokeWidth":1,"point":{"filled":false,"fill":"white","size":15,"strokeWidth":1}},"encoding":{"x":{"field":"t","type":"quantitative","title":"min"},"y":{"field":"w","type":"quantitative","title":"Fluorescence intensity"},"color":{"datum":"WT","scale":{"domain":["WT","scs7Δcsg1Δcsh1Δ"],"range":["black","#b5524e"]},"legend":{"encode":{"symbols":{"update":{"fill":{"signal":"datum.value === 'WT' ? 'black' : 'white'"},"stroke":{"signal":"datum.value === 'WT' ? 'black' : '#b5524e'"}}},"labels":{"update":{"fontStyle":{"signal":"datum.value === 'WT' ? 'normal' : 'italic'"}}}}}}}},
{"mark":{"type":"line","strokeWidth":1,"point":{"filled":false,"fill":"white","size":15,"strokeWidth":1}},"encoding":{"x":{"field":"t","type":"quantitative","title":"min"},"y":{"field":"f","type":"quantitative","title":"Fluorescence intensity"},"color":{"datum":"scs7Δcsg1Δcsh1Δ","scale":{"domain":["WT","scs7Δcsg1Δcsh1Δ"],"range":["black","#b5524e"]},"legend":{"encode":{"symbols":{"update":{"fill":{"signal":"datum.value === 'WT' ? 'black' : 'white'"},"stroke":{"signal":"datum.value === 'WT' ? 'black' : '#b5524e'"}}},"labels":{"update":{"fontStyle":{"signal":"datum.value === 'WT' ? 'normal' : 'italic'"}}}}}}}},
{"data":{"values":[{}]},"mark":{"type":"text","text":"Photobleach","fontSize":15.5,"align":"center","baseline":"alphabetic","color":"black"},"encoding":{"x":{"datum":0},"y":{"datum":1.17}}},
{"data":{"values":[{}]},"mark":{"type":"rule","color":"black","strokeWidth":1},"encoding":{"x":{"datum":0},"y":{"datum":1.14},"y2":{"datum":1.065}}},
{"data":{"values":[{}]},"mark":{"type":"point","shape":"triangle-down","filled":true,"color":"black","size":45,"opacity":1},"encoding":{"x":{"datum":0},"y":{"datum":1.061}}}
]},
{"title":"G","width":310,"height":172,"layer":[
{"mark":{"type":"errorbar","color":"black","thickness":1.6},"encoding":{"x":{"field":"t","type":"quantitative","scale":{"domain":[-2,11],"nice":false},"title":"min"},"y":{"field":"w","type":"quantitative","scale":{"domain":[0,1],"nice":false},"title":"Fluorescence intensity"},"yError":{"field":"we"}}},
{"mark":{"type":"errorbar","color":"#c97f7b","thickness":1.6},"encoding":{"x":{"field":"t","type":"quantitative","title":"min"},"y":{"field":"g","type":"quantitative","title":"Fluorescence intensity"},"yError":{"field":"ge"}}},
{"mark":{"type":"line","strokeWidth":1,"point":{"filled":false,"fill":"white","size":15,"strokeWidth":1}},"encoding":{"x":{"field":"t","type":"quantitative","title":"min"},"y":{"field":"w","type":"quantitative","title":"Fluorescence intensity"},"color":{"datum":"WT","scale":{"domain":["WT","sur2Δscs7Δcsg1Δcsh1Δ"],"range":["black","#b5524e"]},"legend":{"encode":{"symbols":{"update":{"fill":{"signal":"datum.value === 'WT' ? 'black' : 'white'"},"stroke":{"signal":"datum.value === 'WT' ? 'black' : '#b5524e'"}}},"labels":{"update":{"fontStyle":{"signal":"datum.value === 'WT' ? 'normal' : 'italic'"}}}}}}}},
{"mark":{"type":"line","strokeWidth":1,"point":{"filled":false,"fill":"white","size":15,"strokeWidth":1}},"encoding":{"x":{"field":"t","type":"quantitative","title":"min"},"y":{"field":"g","type":"quantitative","title":"Fluorescence intensity"},"color":{"datum":"sur2Δscs7Δcsg1Δcsh1Δ","scale":{"domain":["WT","sur2Δscs7Δcsg1Δcsh1Δ"],"range":["black","#b5524e"]},"legend":{"encode":{"symbols":{"update":{"fill":{"signal":"datum.value === 'WT' ? 'black' : 'white'"},"stroke":{"signal":"datum.value === 'WT' ? 'black' : '#b5524e'"}}},"labels":{"update":{"fontStyle":{"signal":"datum.value === 'WT' ? 'normal' : 'italic'"}}}}}}}},
{"data":{"values":[{}]},"mark":{"type":"text","text":"Photobleach","fontSize":15.5,"align":"center","baseline":"alphabetic","color":"black"},"encoding":{"x":{"datum":0},"y":{"datum":1.17}}},
{"data":{"values":[{}]},"mark":{"type":"rule","color":"black","strokeWidth":1},"encoding":{"x":{"datum":0},"y":{"datum":1.14},"y2":{"datum":1.065}}},
{"data":{"values":[{}]},"mark":{"type":"point","shape":"triangle-down","filled":true,"color":"black","size":45,"opacity":1},"encoding":{"x":{"datum":0},"y":{"datum":1.061}}}
]}
],"spacing":98,"bounds":"flush","resolve":{"scale":{"x":"independent","y":"independent","color":"independent"},"legend":{"color":"independent"}}}
]
}
